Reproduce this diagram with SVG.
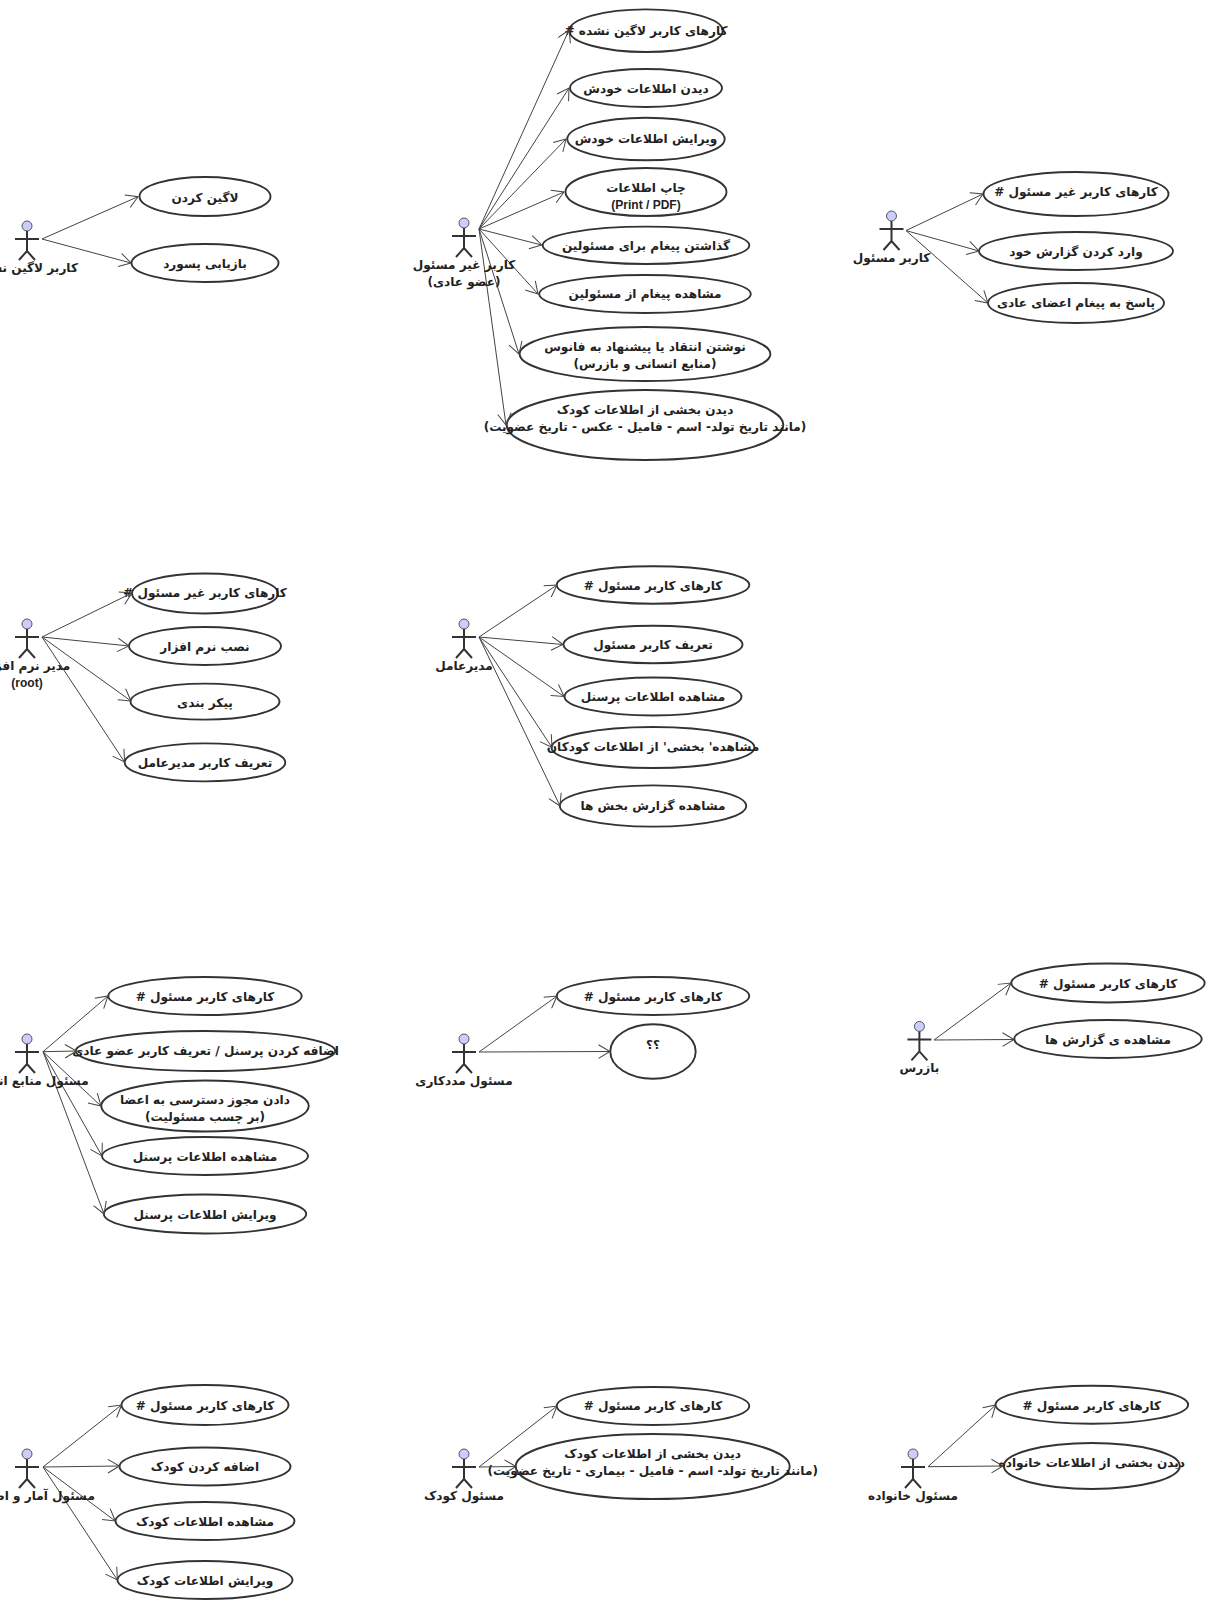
<svg xmlns="http://www.w3.org/2000/svg" width="1219" height="1614" viewBox="0 0 1219 1614">
<style>
text{font-family:"DejaVu Sans",sans-serif;font-size:12.1px;font-weight:bold;fill:#222;text-anchor:middle;direction:rtl}
text.l{direction:ltr;font-family:"Liberation Sans",sans-serif;font-size:12px}
ellipse{fill:#fff;stroke:#333;stroke-width:1.9}
.f path{fill:none;stroke:#333;stroke-width:2}
.f circle{fill:#ccf;stroke:#555;stroke-width:1}
#connectors line{stroke:#444;stroke-width:1;marker-end:url(#a)}
</style>
<defs>
<marker id="a" markerUnits="userSpaceOnUse" markerWidth="18" markerHeight="18" refX="15" refY="9" orient="auto"><path d="M3.5 2.2L15 9L3.5 15.8" fill="none" stroke="#444" stroke-width="1"/></marker>
<g id="fig" class="f"><circle cx="0" cy="0" r="5"/><path d="M0 5V25M-12 13H12M-8 34L0 25L8 34"/></g>
</defs>
<rect width="1219" height="1614" fill="#fff"/>

<g id="u1"><ellipse cx="205" cy="196.5" rx="65.5" ry="19.5"/><text x="205" y="202">لاگین کردن</text></g>
<g id="u2"><ellipse cx="205" cy="263" rx="73.5" ry="19"/><text x="205" y="268">بازیابی پسورد</text></g>

<g id="u3"><ellipse cx="646" cy="30.7" rx="76.7" ry="21.3"/><text x="646" y="35">کارهای کاربر لاگین نشده #</text></g>
<g id="u4"><ellipse cx="646" cy="88" rx="76" ry="19"/><text x="646" y="93">دیدن اطلاعات خودش</text></g>
<g id="u5"><ellipse cx="646" cy="139" rx="78.7" ry="21.3"/><text x="646" y="142.5">ویرایش اطلاعات خودش</text></g>
<g id="u6"><ellipse cx="646" cy="192" rx="80.5" ry="24"/><text x="646" y="192">چاپ اطلاعات</text><text class="l" x="646" y="209">(Print / PDF)</text></g>
<g id="u7"><ellipse cx="646" cy="245.3" rx="103.3" ry="18.7"/><text x="646" y="250">گذاشتن پیغام برای مسئولین</text></g>
<g id="u8"><ellipse cx="645" cy="294" rx="105.8" ry="19"/><text x="645" y="298">مشاهده پیغام از مسئولین</text></g>
<g id="u9"><ellipse cx="645" cy="354" rx="125.4" ry="27"/><text x="645" y="351">نوشتن انتقاد یا پیشنهاد به فانوس</text><text x="645" y="368">(منابع انسانی و بازرس)</text></g>
<g id="u10"><ellipse cx="645" cy="425" rx="138.3" ry="35"/><text x="645" y="414">دیدن بخشی از اطلاعات کودک</text><text x="645" y="431">(مانند تاریخ تولد- اسم - فامیل - عکس - تاریخ عضویت)</text></g>

<g id="u11"><ellipse cx="1076" cy="194" rx="92.5" ry="22"/><text x="1076" y="196">کارهای کاربر غیر مسئول #</text></g>
<g id="u12"><ellipse cx="1076" cy="251" rx="97" ry="19"/><text x="1076" y="256">وارد کردن گزارش خود</text></g>
<g id="u13"><ellipse cx="1076" cy="303" rx="88" ry="20"/><text x="1076" y="307">پاسخ به پیغام اعضای عادی</text></g>

<g id="u14"><ellipse cx="205" cy="593.5" rx="73" ry="20"/><text x="205" y="597">کارهای کاربر غیر مسئول #</text></g>
<g id="u15"><ellipse cx="205" cy="646" rx="76" ry="19"/><text x="205" y="651">نصب نرم افزار</text></g>
<g id="u16"><ellipse cx="205" cy="701.6" rx="74.5" ry="18"/><text x="205" y="707">پیکر بندی</text></g>
<g id="u17"><ellipse cx="205" cy="762.4" rx="80.3" ry="19"/><text x="205" y="767">تعریف کاربر مدیرعامل</text></g>

<g id="u18"><ellipse cx="653" cy="585" rx="96.3" ry="18.7"/><text x="653" y="590">کارهای کاربر مسئول #</text></g>
<g id="u19"><ellipse cx="653" cy="644.5" rx="89.5" ry="18.7"/><text x="653" y="649">تعریف کاربر مسئول</text></g>
<g id="u20"><ellipse cx="653" cy="696.5" rx="88.5" ry="19"/><text x="653" y="701">مشاهده اطلاعات پرسنل</text></g>
<g id="u21"><ellipse cx="653" cy="747.5" rx="101.5" ry="20.5"/><text x="653" y="751">مشاهده' بخشی' از اطلاعات کودکان</text></g>
<g id="u22"><ellipse cx="653" cy="806" rx="93.2" ry="20.6"/><text x="653" y="810">مشاهده گزارش بخش ها</text></g>

<g id="u23"><ellipse cx="205" cy="996" rx="96.7" ry="19"/><text x="205" y="1001">کارهای کاربر مسئول #</text></g>
<g id="u24"><ellipse cx="205.5" cy="1051" rx="129.8" ry="20"/><text x="205.5" y="1055">اضافه کردن پرسنل / تعریف کاربر عضو عادی</text></g>
<g id="u25"><ellipse cx="205" cy="1106" rx="103.7" ry="25.5"/><text x="205" y="1104">دادن مجوز دسترسی به اعضا</text><text x="205" y="1121">(بر چسب مسئولیت)</text></g>
<g id="u26"><ellipse cx="205" cy="1156" rx="103" ry="19"/><text x="205" y="1161">مشاهده اطلاعات پرسنل</text></g>
<g id="u27"><ellipse cx="205" cy="1214" rx="101.2" ry="19.5"/><text x="205" y="1219">ویرایش اطلاعات پرسنل</text></g>

<g id="u28"><ellipse cx="653" cy="996" rx="96.3" ry="19"/><text x="653" y="1001">کارهای کاربر مسئول #</text></g>
<g id="u29"><ellipse cx="653" cy="1051.5" rx="42.7" ry="27.3"/><text x="653" y="1049">؟؟</text></g>

<g id="u30"><ellipse cx="1108" cy="983" rx="96.7" ry="19.5"/><text x="1108" y="988">کارهای کاربر مسئول #</text></g>
<g id="u31"><ellipse cx="1108" cy="1039" rx="93.7" ry="19"/><text x="1108" y="1044">مشاهده ی گزارش ها</text></g>

<g id="u32"><ellipse cx="205" cy="1405" rx="83.5" ry="20"/><text x="205" y="1410">کارهای کاربر مسئول #</text></g>
<g id="u33"><ellipse cx="205" cy="1466.5" rx="85.5" ry="19"/><text x="205" y="1471">اضافه کردن کودک</text></g>
<g id="u34"><ellipse cx="205" cy="1521" rx="89.5" ry="19"/><text x="205" y="1526">مشاهده اطلاعات کودک</text></g>
<g id="u35"><ellipse cx="205" cy="1580" rx="87.5" ry="19"/><text x="205" y="1585">ویرایش اطلاعات کودک</text></g>

<g id="u36"><ellipse cx="653" cy="1406" rx="96.3" ry="19"/><text x="653" y="1410">کارهای کاربر مسئول #</text></g>
<g id="u37"><ellipse cx="652.7" cy="1466.5" rx="137" ry="32.5"/><text x="652.7" y="1458">دیدن بخشی از اطلاعات کودک</text><text x="652.7" y="1475">(مانند تاریخ تولد- اسم - فامیل - بیماری - تاریخ عضویت)</text></g>

<g id="u38"><ellipse cx="1091.8" cy="1404.7" rx="96.3" ry="19"/><text x="1091.8" y="1409.5">کارهای کاربر مسئول #</text></g>
<g id="u39"><ellipse cx="1091.8" cy="1466" rx="88" ry="23"/><text x="1091.8" y="1467">دیدن بخشی از اطلاعات خانواده</text></g>

<g id="connectors">
<line x1="42" y1="239" x2="138" y2="196.7"/><line x1="42" y1="239" x2="131" y2="263"/>
<line x1="479" y1="229" x2="569" y2="30"/><line x1="479" y1="229" x2="569" y2="88"/><line x1="479" y1="229" x2="566" y2="139"/><line x1="479" y1="229" x2="564" y2="192"/><line x1="479" y1="229" x2="541.7" y2="245"/><line x1="479" y1="229" x2="538" y2="294"/><line x1="479" y1="229" x2="519" y2="354"/><line x1="479" y1="229" x2="506" y2="425"/>
<line x1="906" y1="230.6" x2="983" y2="194"/><line x1="906" y1="230.6" x2="979" y2="251"/><line x1="906" y1="230.6" x2="988" y2="303"/>
<line x1="42" y1="637" x2="132" y2="593"/><line x1="42" y1="637" x2="129" y2="646"/><line x1="42" y1="637" x2="131" y2="701"/><line x1="42" y1="637" x2="124.6" y2="762"/>
<line x1="479" y1="637" x2="557" y2="585"/><line x1="479" y1="637" x2="563" y2="644.5"/><line x1="479" y1="637" x2="564" y2="696.5"/><line x1="479" y1="637" x2="552" y2="747.5"/><line x1="479" y1="637" x2="560" y2="806"/>
<line x1="43" y1="1051.7" x2="108" y2="996"/><line x1="43" y1="1051.7" x2="76.5" y2="1051"/><line x1="43" y1="1051.7" x2="101" y2="1106"/><line x1="43" y1="1051.7" x2="102" y2="1156"/><line x1="43" y1="1051.7" x2="104" y2="1214"/>
<line x1="479" y1="1052" x2="557" y2="996"/><line x1="479" y1="1052" x2="610" y2="1051.5"/>
<line x1="934" y1="1040" x2="1011" y2="983"/><line x1="934" y1="1040" x2="1014" y2="1039.5"/>
<line x1="43" y1="1467" x2="121.5" y2="1405"/><line x1="43" y1="1467" x2="119.4" y2="1466"/><line x1="43" y1="1467" x2="115.3" y2="1521"/><line x1="43" y1="1467" x2="117.4" y2="1580"/>
<line x1="479" y1="1467" x2="557" y2="1406"/><line x1="479" y1="1467" x2="516" y2="1466.5"/>
<line x1="928" y1="1466.7" x2="995.7" y2="1405"/><line x1="928" y1="1466.7" x2="1003" y2="1466"/>
</g>

<g id="a1"><use href="#fig" x="27" y="226"/><text x="27" y="272">کاربر لاگین نشده</text></g>
<g id="a2"><use href="#fig" x="464" y="223"/><text x="464" y="269">کاربر غیر مسئول</text><text x="464" y="286">(عضو عادی)</text></g>
<g id="a3"><use href="#fig" x="891.5" y="216"/><text x="891.5" y="262">کاربر مسئول</text></g>
<g id="a4"><use href="#fig" x="27" y="624"/><text x="27" y="670">مدیر نرم افزار</text><text class="l" x="27" y="687">(root)</text></g>
<g id="a5"><use href="#fig" x="464" y="624"/><text x="464" y="670">مدیرعامل</text></g>
<g id="a6"><use href="#fig" x="27" y="1039"/><text x="27" y="1085">مسئول منابع انسانی</text></g>
<g id="a7"><use href="#fig" x="464" y="1039"/><text x="464" y="1085">مسئول مددکاری</text></g>
<g id="a8"><use href="#fig" x="919.4" y="1026.4"/><text x="919.4" y="1072">بازرس</text></g>
<g id="a9"><use href="#fig" x="27" y="1454"/><text x="27" y="1500">مسئول آمار و اطلاعات</text></g>
<g id="a10"><use href="#fig" x="464" y="1454"/><text x="464" y="1500">مسئول کودک</text></g>
<g id="a11"><use href="#fig" x="913" y="1454"/><text x="913" y="1500">مسئول خانواده</text></g>
</svg>
